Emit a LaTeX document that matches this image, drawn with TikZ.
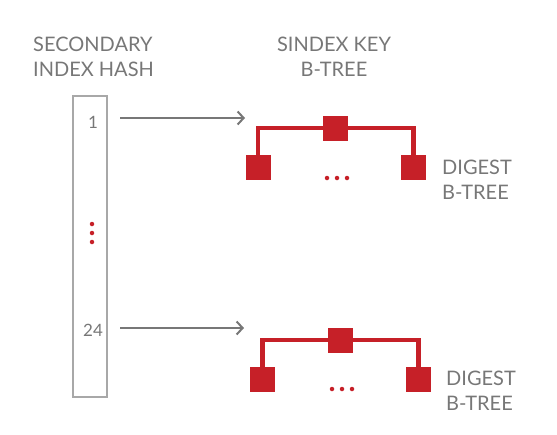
\documentclass[tikz,border=0pt]{standalone}
\usepackage{fontspec}
\setmainfont{Lato}
\usetikzlibrary{arrows.meta}
\definecolor{tgray}{HTML}{777777}
\definecolor{bgray}{HTML}{A8A8A8}
\definecolor{tred}{HTML}{C62028}
\tikzset{
  label/.style={text=tgray, font=\fontsize{20}{25}\selectfont, inner sep=0pt},
  slot/.style={text=tgray, font=\fontsize{17}{20}\selectfont, inner sep=0pt},
  hashbox/.style={draw=bgray, line width=1.2pt, minimum width=34pt, minimum height=301pt, inner sep=0pt},
  treebox/.style={fill=tred, minimum size=25pt, inner sep=0pt},
  dot/.style={circle, fill=tred, minimum size=4.5pt, inner sep=0pt},
  edge/.style={draw=tred, line width=4.5pt},
  ptr/.style={draw=tgray, line width=2pt, -{Straight Barb[length=6pt, width=13pt, line width=2pt]}}
}
\begin{document}
\begin{tikzpicture}[x=1pt, y=-1pt]
  \useasboundingbox (0,0) rectangle (557,434);

  % headings
  \node[label, align=left, anchor=north west] (hashlabel) at (33,37) {SECONDARY\\INDEX HASH};
  \node[label, align=center, anchor=north] (keylabel) at (334,37) {SINDEX KEY\\B-TREE};

  % hash column
  \node[hashbox] (hash) at (90,246.5) {};
  \node[slot] (one) at (93,122) {1};
  \node[slot] (last) at (93,330) {24};
  \node[dot] (v1) at (92,224) {};
  \node[dot] (v2) at (92,233) {};
  \node[dot] (v3) at (92,242) {};

  % first tree
  \node[treebox] (root1) at (335.5,128) {};
  \node[treebox] (left1) at (258,167.5) {};
  \node[treebox] (right1) at (413.5,167.5) {};
  \draw[edge] (left1.north) |- (root1) -| (right1.north);
  \node[dot] (d11) at (327,178) {};
  \node[dot] (d12) at (337,178) {};
  \node[dot] (d13) at (347,178) {};
  \node[label, align=left, anchor=north west] (dig1) at (442,160) {DIGEST\\B-TREE};

  % second tree
  \node[treebox] (root2) at (340.5,340) {};
  \node[treebox] (left2) at (262.5,379.5) {};
  \node[treebox] (right2) at (418.5,379.5) {};
  \draw[edge] (left2.north) |- (root2) -| (right2.north);
  \node[dot] (d21) at (332,389) {};
  \node[dot] (d22) at (342,389) {};
  \node[dot] (d23) at (352,389) {};
  \node[label, align=left, anchor=north west] (dig2) at (446,371) {DIGEST\\B-TREE};

  % pointers
  \coordinate (s1) at (120,118);
  \coordinate (e1) at (245,118);
  \coordinate (s2) at (120,328);
  \coordinate (e2) at (244,328);
  \draw[ptr] (s1) -- (e1);
  \draw[ptr] (s2) -- (e2);
\end{tikzpicture}
\end{document}
